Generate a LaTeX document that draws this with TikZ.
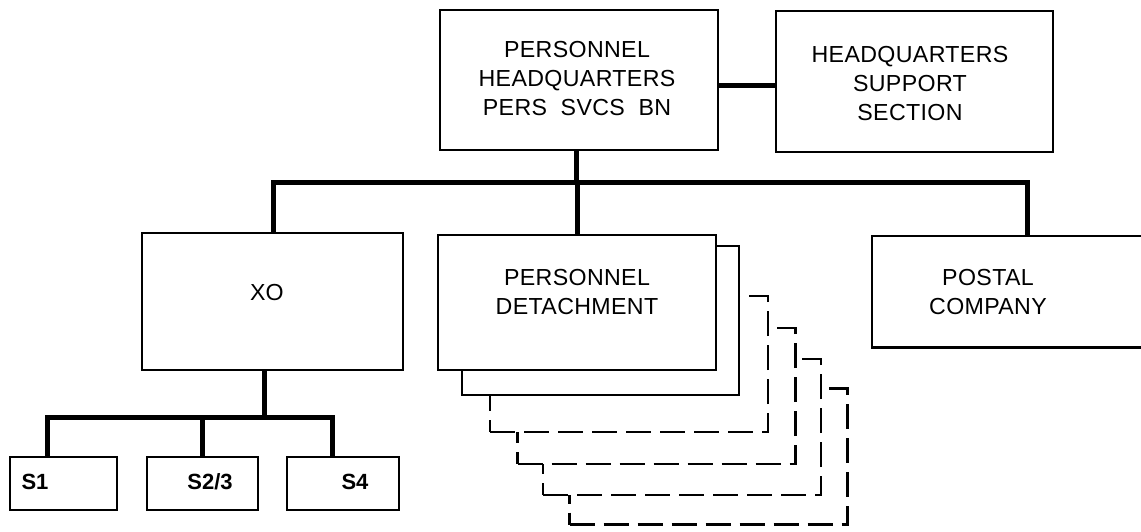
\documentclass[tikz,border=0pt]{standalone}
\usepackage{fontspec}
\setmainfont{Liberation Sans}
\begin{document}
\begin{tikzpicture}[x=1pt,y=-1pt,
  box/.style={draw=black, line width=2.6pt, fill=white, inner sep=0pt, rectangle},
  dbox/.style={box, dash pattern=on 25pt off 9pt},
  edge/.style={draw=black, line width=2.6pt},
  conn/.style={draw=black, line width=5pt, line join=miter},
  txt/.style={font=\fontsize{23.2}{29}\selectfont, align=center, inner sep=0pt},
  stxt/.style={font=\bfseries\fontsize{22}{29}\selectfont, inner sep=0pt}]
\useasboundingbox (0,0) rectangle (1141,532);
\clip (0,0) rectangle (1141,532);
% connectors
\coordinate (busL) at (273,183);
\coordinate (busR) at (1027,183);
\coordinate (sbusL) at (47,417);
\coordinate (sbusR) at (332,417);
% boxes
\node[box, minimum width=278, minimum height=140] (top) at (579,80) {};
\node[box, minimum width=277, minimum height=141] (hqs) at (914.5,81.5) {};
\node[box, minimum width=261, minimum height=137] (xo) at (272.5,301.5) {};
\node[inner sep=0pt, minimum width=300, minimum height=111] (postal) at (1022,291.5) {};
\draw[edge] (postal.north east) -- (postal.north west) -- (postal.south west) -- (postal.south east);
\node[dbox, minimum width=278, minimum height=136] (d4) at (708.5,456.5) {};
\node[dbox, minimum width=278, minimum height=136] (d3) at (682,427) {};
\node[dbox, minimum width=278, minimum height=136] (d2) at (656.5,396) {};
\node[dbox, minimum width=278, minimum height=136] (d1) at (629,364) {};
\node[box, minimum width=277, minimum height=149] (detback) at (600.5,320.5) {};
\node[box, minimum width=278, minimum height=135] (det) at (577,302.5) {};
\node[box, minimum width=107, minimum height=53] (s1) at (63.5,483.5) {};
\node[box, minimum width=111, minimum height=53] (s23) at (202.5,483.5) {};
\node[box, minimum width=112, minimum height=53] (s4) at (343,483.5) {};
% texts
\node[txt] (toptxt) at (577,79) {\addfontfeature{LetterSpace=1.5}PERSONNEL\\\addfontfeature{LetterSpace=1.5}HEADQUARTERS\\\addfontfeature{LetterSpace=1.5}PERS\ \ SVCS\ \ BN};
\node[txt] (hqstxt) at (910,84) {\addfontfeature{LetterSpace=1.5}HEADQUARTERS\\\addfontfeature{LetterSpace=1.5}SUPPORT\\\addfontfeature{LetterSpace=1.5}SECTION};
\node[txt] (xotxt) at (267,293) {XO};
\node[txt] (dettxt) at (577,292) {\addfontfeature{LetterSpace=1.5}PERSONNEL\\\addfontfeature{LetterSpace=1.5}DETACHMENT};
\node[txt] (postaltxt) at (988,292) {\addfontfeature{LetterSpace=1.5}POSTAL\\\addfontfeature{LetterSpace=1.5}COMPANY};
\node[stxt] (s1txt) at (35,482) {S1};
\node[stxt] (s23txt) at (210,482) {S2/3};
\node[stxt] (s4txt) at (355,482) {S4};
% connector lines
\draw[conn] ([yshift=-6pt]top.east) -- ([yshift=-6pt]top.east -| hqs.west);
\draw[conn] ([xshift=-3pt]top.south) -- ([xshift=-3pt]top.south |- busL);
\draw[conn] (busL |- xo.north) -- (busL) -- (busR) -- (busR |- postal.north);
\draw[conn] (det.north) -- (det.north |- busL);
\draw[conn] ([xshift=-8pt]xo.south) -- ([xshift=-8pt]xo.south |- sbusL);
\draw[conn] (sbusL |- s1.north) -- (sbusL) -- (sbusR) -- (sbusR |- s4.north);
\draw[conn] (s23.north) -- (s23.north |- sbusL);
\end{tikzpicture}
\end{document}
